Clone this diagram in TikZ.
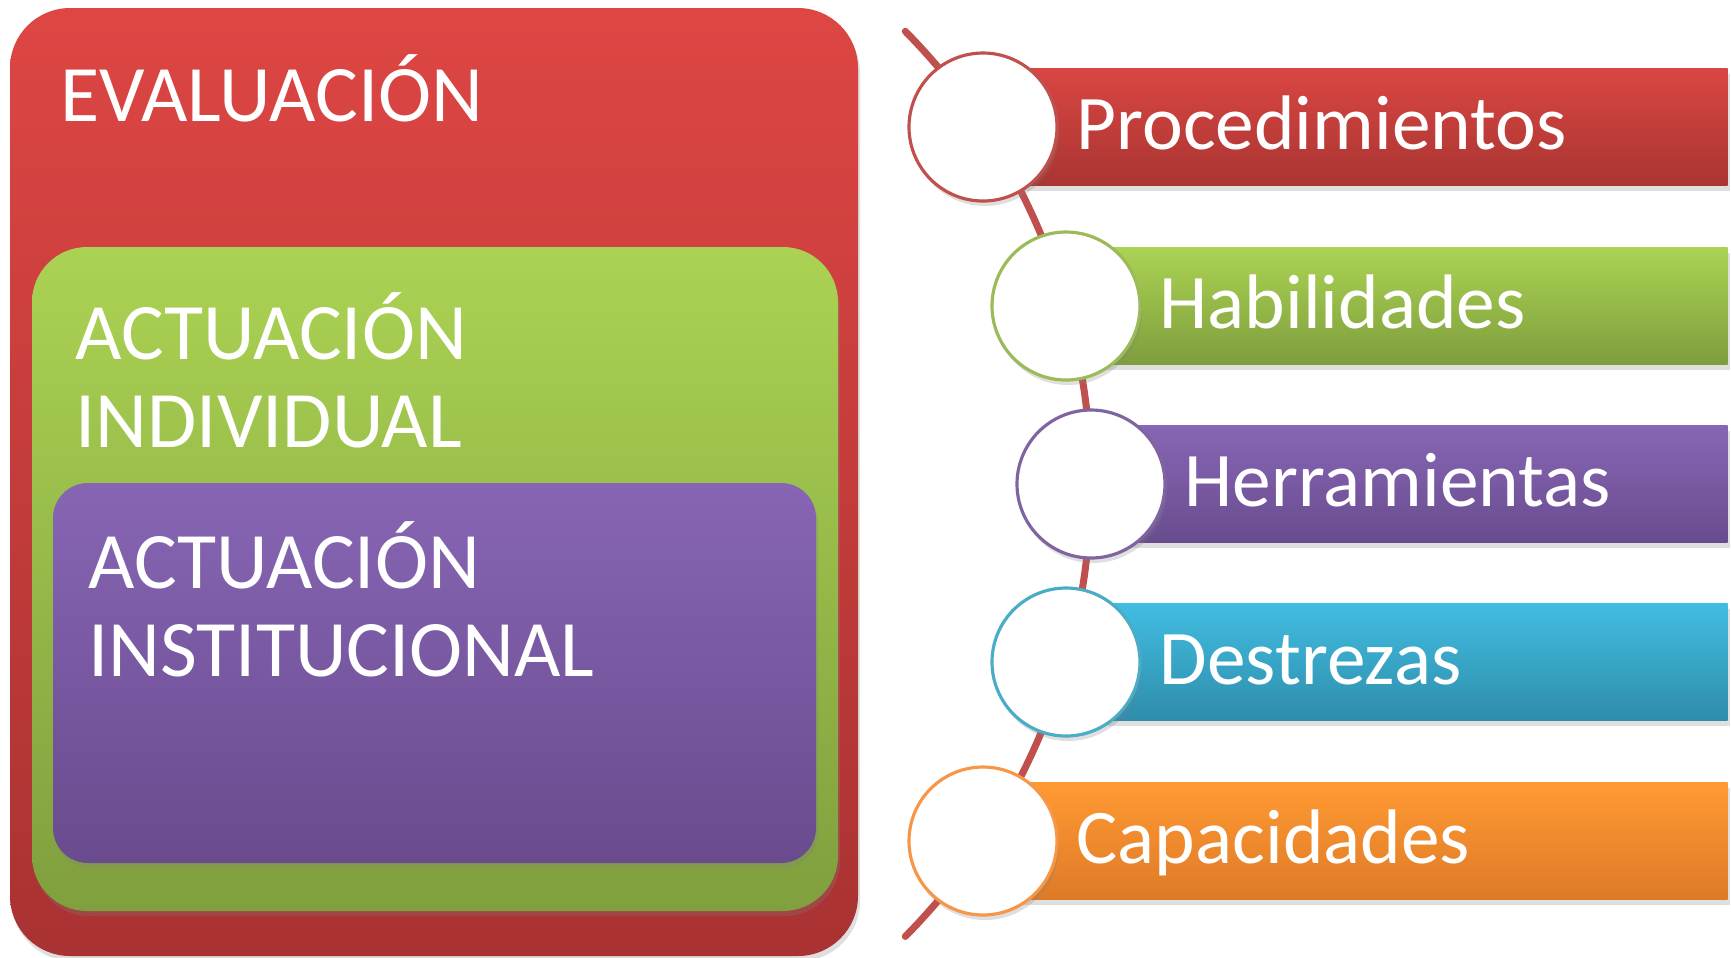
\documentclass[tikz,border=0pt]{standalone}
\usepackage{fontspec}
\setmainfont{Carlito}
\usetikzlibrary{shadows}

\definecolor{evaltop}{HTML}{DD4643}
\definecolor{evalbot}{HTML}{A93232}
\definecolor{indivtop}{HTML}{ABD253}
\definecolor{indivbot}{HTML}{809F3E}
\definecolor{insttop}{HTML}{8765B4}
\definecolor{instbot}{HTML}{694B8E}
\definecolor{spinered}{HTML}{C0504D}
\definecolor{procline}{HTML}{C0504D}
\definecolor{habline}{HTML}{9BBB59}
\definecolor{herrline}{HTML}{8064A2}
\definecolor{destline}{HTML}{4BACC6}
\definecolor{capline}{HTML}{F79646}
\definecolor{proctop}{HTML}{D94642}
\definecolor{procbot}{HTML}{A93532}
\definecolor{habtop}{HTML}{ABD353}
\definecolor{habbot}{HTML}{7E9D3D}
\definecolor{herrtop}{HTML}{8766B5}
\definecolor{herrbot}{HTML}{694C8E}
\definecolor{desttop}{HTML}{41BDE2}
\definecolor{destbot}{HTML}{2F8DAA}
\definecolor{captop}{HTML}{FF9A33}
\definecolor{capbot}{HTML}{DE7A27}

\begin{document}
\begin{tikzpicture}[
  txt/.style={text=white, font=\fontsize{22}{25}\selectfont, inner sep=0pt},
  bigtxt/.style={txt, font=\fontsize{22.8}{25}\selectfont, anchor=base west, align=left},
  shad/.style={drop shadow={opacity=0.25, shadow xshift=0.02cm, shadow yshift=-0.05cm}},
  circ/.style={circle, fill=white, draw=#1, line width=0.9pt, minimum size=1.48cm, inner sep=0pt, shad},
  bar/.style={rectangle, inner sep=0pt, minimum height=1.17cm, anchor=west, shad},
  spine/.style={draw=spinered, line width=2pt, line cap=round}]
  \useasboundingbox (0,0) rectangle (17.31,-9.57);

  % nested boxes on the left
  \shade[shad, rounded corners=0.6cm, top color=evaltop, bottom color=evalbot] (0.10,-0.08) rectangle (8.58,-9.56);
  \shade[shad, rounded corners=0.55cm, top color=indivtop, bottom color=indivbot] (0.32,-2.47) rectangle (8.38,-9.11);
  \shade[shad, rounded corners=0.35cm, top color=insttop, bottom color=instbot] (0.53,-4.83) rectangle (8.16,-8.63);
  \node[bigtxt] (evaltxt) at (0.60,-1.21) {EVALUACIÓN};
  \node[bigtxt] (indivtxt) at (0.75,-4.47) {ACTUACIÓN\\INDIVIDUAL};
  \node[bigtxt] (insttxt) at (0.88,-6.76) {ACTUACIÓN\\INSTITUCIONAL};

  % spine
  \draw[spine] (9.053,-0.313) coordinate (top) arc (44.6:-44.6:6.446) coordinate (bot);

  % bars
  \node[bar, minimum width=7.44cm, top color=proctop, bottom color=procbot] (b1) at (9.83,-1.27) {};
  \node[bar, minimum width=6.61cm, top color=habtop, bottom color=habbot] (b2) at (10.66,-3.06) {};
  \node[bar, minimum width=6.36cm, top color=herrtop, bottom color=herrbot] (b3) at (10.91,-4.84) {};
  \node[bar, minimum width=6.61cm, top color=desttop, bottom color=destbot] (b4) at (10.66,-6.62) {};
  \node[bar, minimum width=7.44cm, top color=captop, bottom color=capbot] (b5) at (9.83,-8.41) {};

  % circles
  \node[circ=procline] (c1) at (9.83,-1.27) {};
  \node[circ=habline] (c2) at (10.66,-3.06) {};
  \node[circ=herrline] (c3) at (10.91,-4.84) {};
  \node[circ=destline] (c4) at (10.66,-6.62) {};
  \node[circ=capline] (c5) at (9.83,-8.41) {};

  % labels
  \node[txt, anchor=base west] (t1) at ([shift={(0.93,-0.22)}]c1.center) {Procedimientos};
  \node[txt, anchor=base west] (t2) at ([shift={(0.93,-0.22)}]c2.center) {Habilidades};
  \node[txt, anchor=base west] (t3) at ([shift={(0.93,-0.22)}]c3.center) {Herramientas};
  \node[txt, anchor=base west] (t4) at ([shift={(0.93,-0.22)}]c4.center) {Destrezas};
  \node[txt, anchor=base west] (t5) at ([shift={(0.93,-0.22)}]c5.center) {Capacidades};
\end{tikzpicture}
\end{document}
